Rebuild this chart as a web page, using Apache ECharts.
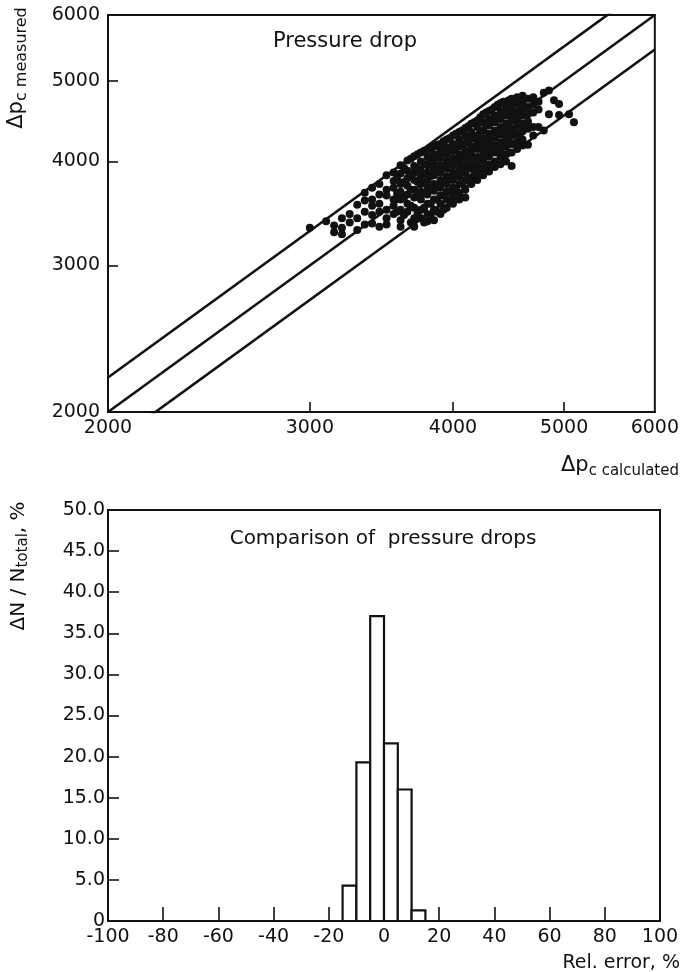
<!DOCTYPE html>
<html><head><meta charset="utf-8">
<script src="https://cdn.jsdelivr.net/npm/echarts@6/dist/echarts.min.js"></script>
<style>html,body{margin:0;padding:0;background:#fff}#c{width:682px;height:972px}</style>
</head><body><div id="c"></div>
<script>
// ---------- top chart data ----------
const calcTicks = [2000, 3000, 4000, 5000, 6000];
const measTicks = [2000, 3000, 4000, 5000, 6000];
const toleranceFactors = [1.1, 1.0, 1 / 1.1];
// scatter (set A): calculated value columns and measured values in each column
const calcColumns = [3000, 3100, 3150, 3200, 3250, 3300, 3350, 3400, 3450, 3500, 3550, 3600, 3650, 3700, 3750, 3800, 3850, 3900, 3950, 4000, 4050, 4100, 4150, 4200, 4250, 4300, 4350, 4400, 4450, 4500, 4550, 4600, 4650, 4700, 4750, 4800, 4850, 4900, 4950, 5050, 5100];
const measByColumn = [
  [3330],
  [3390],
  [3350, 3290],
  [3420, 3330, 3270],
  [3460, 3380],
  [3550, 3420, 3310],
  [3670, 3590, 3480, 3360],
  [3720, 3600, 3540, 3450, 3370],
  [3760, 3650, 3560, 3480, 3340],
  [3850, 3700, 3640, 3500, 3420, 3360],
  [3880, 3790, 3720, 3600, 3540, 3460],
  [3960, 3870, 3760, 3680, 3600, 3500, 3400, 3340],
  [4010, 3900, 3820, 3740, 3650, 3560, 3480],
  [4060, 3950, 3880, 3800, 3700, 3620, 3520, 3420, 3340],
  [4100, 4000, 3900, 3840, 3760, 3680, 3600, 3500, 3420],
  [4130, 4050, 3960, 3880, 3800, 3730, 3650, 3560, 3460, 3390],
  [4170, 4080, 3990, 3920, 3850, 3760, 3690, 3600, 3500, 3400],
  [4200, 4120, 4040, 3960, 3880, 3800, 3720, 3640, 3560, 3460],
  [4250, 4160, 4080, 4000, 3920, 3840, 3760, 3680, 3600, 3520],
  [4300, 4200, 4120, 4040, 3960, 3880, 3800, 3720, 3640, 3560],
  [4340, 4250, 4170, 4080, 4000, 3920, 3840, 3760, 3660, 3600],
  [4390, 4300, 4210, 4120, 4040, 3960, 3880, 3800, 3700, 3620],
  [4440, 4340, 4260, 4170, 4080, 4000, 3920, 3830, 3760],
  [4480, 4400, 4300, 4220, 4140, 4050, 3960, 3880, 3800],
  [4560, 4460, 4360, 4270, 4180, 4100, 4010, 3930, 3850],
  [4600, 4500, 4420, 4320, 4220, 4140, 4060, 3970, 3890],
  [4650, 4540, 4460, 4360, 4270, 4180, 4100, 4000, 3940],
  [4700, 4600, 4500, 4400, 4310, 4220, 4130, 4050, 3970],
  [4720, 4630, 4540, 4440, 4350, 4260, 4170, 4080, 4000],
  [4760, 4660, 4570, 4480, 4380, 4300, 4200, 4100, 3950],
  [4780, 4700, 4600, 4500, 4420, 4320, 4230, 4140],
  [4800, 4720, 4630, 4540, 4440, 4350, 4250, 4180],
  [4760, 4650, 4560, 4470, 4380, 4190],
  [4780, 4680, 4580, 4400, 4300],
  [4720, 4620, 4400],
  [4840, 4360],
  [4870, 4560],
  [4740],
  [4690, 4550],
  [4560],
  [4460]
];
// scatter (set B): in-between columns of the dense core
const calcColumnsB = [3575, 3625, 3675, 3725, 3775, 3825, 3875, 3925, 3975, 4025, 4075, 4125, 4175, 4225, 4275, 4325, 4375, 4425, 4475, 4525, 4575];
const measByColumnB = [
  [3820, 3660, 3480],
  [3930, 3780, 3620, 3450],
  [4030, 3860, 3700, 3540, 3380],
  [4080, 3920, 3780, 3640, 3470],
  [4120, 3970, 3810, 3660, 3520, 3380],
  [4150, 4010, 3840, 3700, 3560, 3440],
  [4190, 4060, 3900, 3740, 3600, 3480],
  [4230, 4100, 3940, 3780, 3640, 3500],
  [4270, 4140, 3980, 3820, 3680, 3580],
  [4320, 4160, 4020, 3860, 3700, 3620],
  [4360, 4200, 4060, 3900, 3760],
  [4410, 4240, 4100, 3940, 3800],
  [4460, 4290, 4150, 3990, 3850],
  [4520, 4360, 4200, 4040, 3900],
  [4580, 4420, 4250, 4080, 3920],
  [4620, 4460, 4290, 4120, 3960],
  [4680, 4520, 4340, 4160],
  [4720, 4560, 4380, 4210, 4040],
  [4740, 4600, 4420, 4250, 4100],
  [4740, 4560, 4380, 4200],
  [4770, 4600, 4420, 4280]
];
// ---------- bottom chart data ----------
const errTicks = [-100, -80, -60, -40, -20, 0, 20, 40, 60, 80, 100];
const freqTicks = [0, 5, 10, 15, 20, 25, 30, 35, 40, 45, 50];
const binStart = [-15, -10, -5, 0, 5, 10];
const binWidth = 5;
const binFreq = [4.3, 19.3, 37.1, 21.6, 16.0, 1.3];

const FONT = 'DejaVu Sans';
const INK = '#111';
const lg = Math.log10;

const scatterData = [];
calcColumns.forEach((c, i) => measByColumn[i].forEach(m => scatterData.push([lg(c), lg(m)])));
calcColumnsB.forEach((c, i) => measByColumnB[i].forEach(m => scatterData.push([lg(c), lg(m)])));

const lineSeries = toleranceFactors.map(k => ({
  type: 'line', xAxisIndex: 0, yAxisIndex: 0, symbol: 'none', clip: true, silent: true,
  lineStyle: { color: INK, width: 2.6 },
  data: [[lg(calcTicks[0]), lg(calcTicks[0] * k)], [lg(calcTicks[calcTicks.length - 1]), lg(calcTicks[calcTicks.length - 1] * k)]]
}));

const logAxisCommon = (ticks, isX) => ({
  type: 'value', min: lg(ticks[0]), max: lg(ticks[ticks.length - 1]),
  axisLine: { show: true, onZero: false, lineStyle: { color: INK, width: 2 } },
  axisTick: { show: true, inside: true, length: 10, lineStyle: { color: INK, width: 1.6 }, customValues: ticks.slice(1, -1).map(lg) },
  axisLabel: { color: INK, fontFamily: FONT, fontSize: 19, margin: isX ? 7 : 8, customValues: ticks.map(lg), formatter: v => String(Math.round(Math.pow(10, v))) },
  splitLine: { show: false }
});

const option = {
  backgroundColor: '#fff',
  animation: false,
  grid: [
    { left: 108, top: 15, width: 552, height: 397, show: true, borderColor: INK, borderWidth: 2, backgroundColor: 'transparent' },
    { left: 108, top: 510, width: 552, height: 411, show: true, borderColor: INK, borderWidth: 2, backgroundColor: 'transparent' }
  ],
  xAxis: [
    Object.assign({ gridIndex: 0 }, logAxisCommon(calcTicks, true)),
    {
      gridIndex: 1, type: 'value', min: errTicks[0], max: errTicks[errTicks.length - 1], interval: 20,
      axisLine: { show: true, onZero: false, lineStyle: { color: INK, width: 2 } },
      axisTick: { show: true, inside: true, length: 14, lineStyle: { color: INK, width: 1.6 } },
      axisLabel: { color: INK, fontFamily: FONT, fontSize: 19, margin: 7 },
      splitLine: { show: false }
    }
  ],
  yAxis: [
    Object.assign({ gridIndex: 0 }, logAxisCommon(measTicks, false)),
    {
      gridIndex: 1, type: 'value', min: freqTicks[0], max: freqTicks[freqTicks.length - 1], interval: 5,
      axisLine: { show: true, onZero: false, lineStyle: { color: INK, width: 2 } },
      axisTick: { show: true, inside: true, length: 11, lineStyle: { color: INK, width: 1.6 } },
      axisLabel: { color: INK, fontFamily: FONT, fontSize: 19, margin: 3, formatter: v => v === 0 ? '0' : v.toFixed(1) },
      splitLine: { show: false }
    }
  ],
  series: [
    ...lineSeries,
    {
      type: 'scatter', xAxisIndex: 0, yAxisIndex: 0, symbol: 'circle', symbolSize: 8,
      itemStyle: { color: INK, opacity: 1 }, data: scatterData
    },
    {
      type: 'custom', xAxisIndex: 1, yAxisIndex: 1,
      data: binStart.map((s, i) => [s, s + binWidth, binFreq[i]]),
      encode: { x: [0, 1], y: 2 },
      renderItem: (params, api) => {
        const p0 = api.coord([api.value(0), api.value(2)]);
        const p1 = api.coord([api.value(1), 0]);
        return { type: 'rect', shape: { x: p0[0], y: p0[1], width: p1[0] - p0[0], height: p1[1] - p0[1] },
          style: { fill: '#fff', stroke: INK, lineWidth: 2.2 } };
      }
    }
  ],
  graphic: [
    { type: 'text', x: 345, y: 42, style: { text: 'Pressure drop', font: '21px "DejaVu Sans"', fill: INK, textAlign: 'center', textVerticalAlign: 'middle' } },
    { type: 'text', x: 383, y: 539, style: { text: 'Comparison of  pressure drops', font: '20px "DejaVu Sans"', fill: INK, textAlign: 'center', textVerticalAlign: 'middle' } },
    { type: 'text', x: 17, y: 68, rotation: Math.PI / 2,
      style: { text: '{a|Δp}{b|c measured}', fill: INK, textAlign: 'center', textVerticalAlign: 'middle',
        rich: { a: { fontFamily: FONT, fontSize: 21, fill: INK }, b: { fontFamily: FONT, fontSize: 16, fill: INK, padding: [10, 0, 0, 0] } } } },
    { type: 'text', x: 679, y: 466,
      style: { text: '{a|Δp}{b|c calculated}', fill: INK, textAlign: 'right', textVerticalAlign: 'middle',
        rich: { a: { fontFamily: FONT, fontSize: 21, fill: INK }, b: { fontFamily: FONT, fontSize: 15, fill: INK, padding: [10, 0, 0, 0] } } } },
    { type: 'text', x: 19, y: 566, rotation: Math.PI / 2,
      style: { text: '{a|ΔN / N}{b|total}{a|, %}', fill: INK, textAlign: 'center', textVerticalAlign: 'middle',
        rich: { a: { fontFamily: FONT, fontSize: 20, fill: INK }, b: { fontFamily: FONT, fontSize: 15, fill: INK, padding: [9, 0, 0, 0] } } } },
    { type: 'text', x: 680, y: 963, style: { text: 'Rel. error, %', font: '19px "DejaVu Sans"', fill: INK, textAlign: 'right', textVerticalAlign: 'middle' } }
  ]
};
echarts.init(document.getElementById('c'), null, { renderer: 'canvas' }).setOption(option);
</script></body></html>
